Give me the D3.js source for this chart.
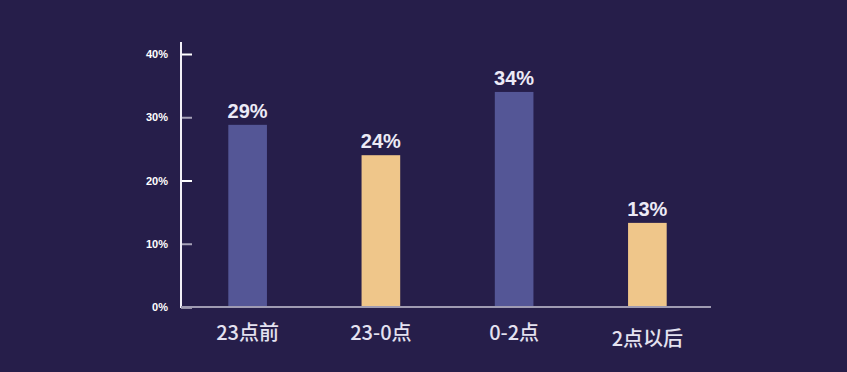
<!DOCTYPE html>
<html><head><meta charset="utf-8">
<script src="https://cdn.jsdelivr.net/npm/d3@7"></script>
<style>
html,body{margin:0;padding:0;background:#261e4a;}
svg{display:block;}
</style></head>
<body><svg id="c" width="847" height="372"></svg>
<script>
const categories = ["23点前", "23-0点", "0-2点", "2点以后"];
const values = [28.8, 24.0, 34.0, 13.3];
const valueLabels = ["29%", "24%", "34%", "13%"];
const yTicks = [0, 10, 20, 30, 40];
const barColors = ["#545696", "#efc68a", "#545696", "#efc68a"];

const svg = d3.select("#c");
const W = 847, H = 372;
svg.append("rect").attr("width", W).attr("height", H).attr("fill", "#261e4a");

const x0 = 181, x1 = 711, yTop = 54, yBot = 307;
const x = d3.scaleBand().domain(categories).range([x0, 714]).paddingInner(0.71).paddingOuter(0.355);
const y = d3.scaleLinear().domain([0, 40]).range([yBot, yTop]);

const font = "'Liberation Sans', Arial, 'Noto Sans CJK SC', sans-serif";

// bars
svg.selectAll("rect.bar").data(values).enter().append("rect")
  .attr("class", "bar")
  .attr("x", (d, i) => x(categories[i]))
  .attr("width", x.bandwidth())
  .attr("y", d => y(d))
  .attr("height", d => yBot - y(d))
  .attr("fill", (d, i) => barColors[i]);

// value labels
svg.selectAll("text.val").data(values).enter().append("text")
  .attr("class", "val")
  .attr("x", (d, i) => x(categories[i]) + x.bandwidth() / 2)
  .attr("y", d => y(d) - 7)
  .attr("text-anchor", "middle")
  .attr("fill", "#eceaf6")
  .style("font-family", font)
  .style("font-size", "20px")
  .style("font-weight", "bold")
  .text((d, i) => valueLabels[i]);

// y axis
const yAxis = d3.axisRight(y).tickValues(yTicks).tickSize(11).tickFormat("");
const ya = svg.append("g").attr("transform", `translate(${x0},0)`).call(yAxis);
ya.select(".domain").remove();
ya.selectAll(".tick line").attr("stroke", (d, i) => i % 2 ? "#a7a3b8" : "#ffffff").attr("stroke-width", 2);
svg.append("line").attr("x1", x0).attr("x2", x0).attr("y1", 42).attr("y2", yBot + 1)
  .attr("stroke", "#f2f0f8").attr("stroke-width", 2);

// y tick labels
svg.selectAll("text.yt").data(yTicks).enter().append("text")
  .attr("class", "yt")
  .attr("x", 168)
  .attr("y", d => y(d) + 4)
  .attr("text-anchor", "end")
  .attr("fill", "#ffffff")
  .style("font-family", font)
  .style("font-size", "11px")
  .style("font-weight", "bold")
  .text(d => d + "%");

// x axis
const xAxis = d3.axisBottom(x).tickSize(0).tickPadding(14);
const xa = svg.append("g").attr("transform", `translate(0,${yBot})`).call(xAxis);
xa.select(".domain").attr("stroke", "#9f9bb2").attr("stroke-width", 2)
  .attr("d", `M${x0},0H${x1}`);
xa.selectAll(".tick text")
  .attr("fill", "#e4e2f0")
  .attr("dy", (d, i) => i === 3 ? "1.25em" : "0.95em")
  .style("font-family", "'Noto Sans CJK SC', 'Liberation Sans', sans-serif")
  .style("font-size", "20px")
  .style("font-weight", "500");
</script></body></html>
